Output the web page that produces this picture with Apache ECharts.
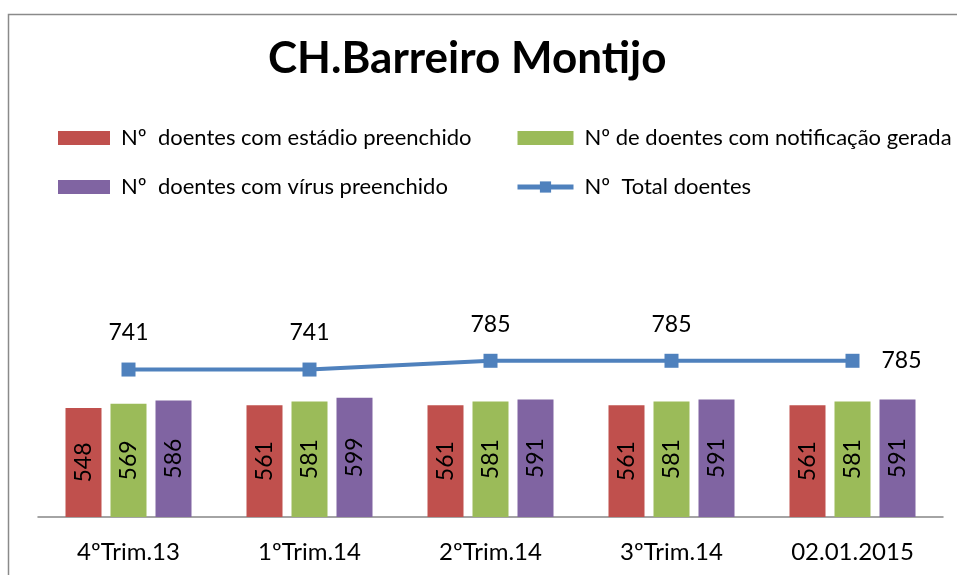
<!DOCTYPE html>
<html>
<head>
<meta charset="utf-8">
<script src="https://cdn.jsdelivr.net/npm/echarts@6/dist/echarts.min.js"></script>
<style>
    html, body { margin: 0; padding: 0; background: #fff; }
    #chart { width: 957px; height: 575px; }
</style>
</head>
<body>
<div id="chart"></div>
<script>
const FONT = 'Lato, "Liberation Sans", sans-serif';

const categories = ['4ºTrim.13', '1ºTrim.14', '2ºTrim.14', '3ºTrim.14', '02.01.2015'];
const estadio = [548, 561, 561, 561, 561];
const notificacao = [569, 581, 581, 581, 581];
const virus = [586, 599, 591, 591, 591];
const total = [741, 741, 785, 785, 785];

const NAME_ESTADIO = 'Nº  doentes com estádio preenchido';
const NAME_NOTIF = 'Nº de doentes com notificação gerada';
const NAME_VIRUS = 'Nº  doentes com vírus preenchido';
const NAME_TOTAL = 'Nº  Total doentes';

const C_RED = '#C0504D';
const C_GREEN = '#9BBB59';
const C_PURPLE = '#8064A2';
const C_BLUE = '#4F81BD';

const barLabel = {
    show: true,
    position: 'inside',
    rotate: 90,
    color: '#000',
    fontSize: 23,
    fontFamily: FONT,
};

function barSeries(name, data, color) {
    return {
        name,
        type: 'bar',
        data,
        barWidth: 36,
        barGap: '25%',
        itemStyle: { color },
        label: barLabel,
    };
}

// last point label sits to the right of the marker, the rest above
const totalData = total.map((v, i) => i === total.length - 1
    ? { value: v, label: { position: 'right', distance: 22 } }
    : v);

const legendText = { color: '#000', fontSize: 22, fontFamily: FONT, lineHeight: 24, padding: [0, 0, 0, 6] };

const chart = echarts.init(document.getElementById('chart'));
chart.setOption({
    animation: false,
    backgroundColor: '#fff',
    graphic: [{
        type: 'rect',
        shape: { x: 8.5, y: 14.5, width: 1200, height: 1000 },
        style: { fill: 'none', stroke: '#8a8a8a', lineWidth: 1.5 },
        silent: true,
        z: -10,
    }],
    title: {
        text: 'CH.Barreiro Montijo',
        left: 268,
        top: 37,
        padding: 0,
        textStyle: { color: '#000', fontSize: 44, fontWeight: 'bold', fontFamily: FONT },
    },
    legend: [
        {
            orient: 'vertical',
            left: 58,
            top: 126,
            padding: 0,
            itemGap: 25,
            itemWidth: 52,
            itemHeight: 14,
            icon: 'rect',
            data: [NAME_ESTADIO, NAME_VIRUS],
            textStyle: legendText,
        },
        {
            orient: 'vertical',
            left: 515,
            top: 126,
            padding: 0,
            itemGap: 25,
            itemWidth: 56,
            itemHeight: 14,
            data: [
                { name: NAME_NOTIF, icon: 'rect' },
                { name: NAME_TOTAL, lineStyle: { width: 5 } },
            ],
            textStyle: legendText,
        },
    ],
    grid: { left: 38, right: 14, top: 318, bottom: 58 },
    xAxis: {
        type: 'category',
        data: categories,
        axisLine: { lineStyle: { color: '#868686', width: 1.5 } },
        axisTick: { show: false },
        axisLabel: { color: '#000', fontSize: 24, fontFamily: FONT, margin: 23 },
    },
    yAxis: {
        type: 'value',
        min: 0,
        max: 1000,
        show: false,
        splitLine: { show: false },
    },
    series: [
        barSeries(NAME_ESTADIO, estadio, C_RED),
        barSeries(NAME_NOTIF, notificacao, C_GREEN),
        barSeries(NAME_VIRUS, virus, C_PURPLE),
        {
            name: NAME_TOTAL,
            type: 'line',
            data: totalData,
            symbol: 'rect',
            symbolSize: 14,
            itemStyle: { color: C_BLUE },
            lineStyle: { color: C_BLUE, width: 4 },
            label: {
                show: true,
                position: 'top',
                distance: 18,
                color: '#000',
                fontSize: 23,
                fontFamily: FONT,
            },
            z: 5,
        },
    ],
});
</script>
</body>
</html>
